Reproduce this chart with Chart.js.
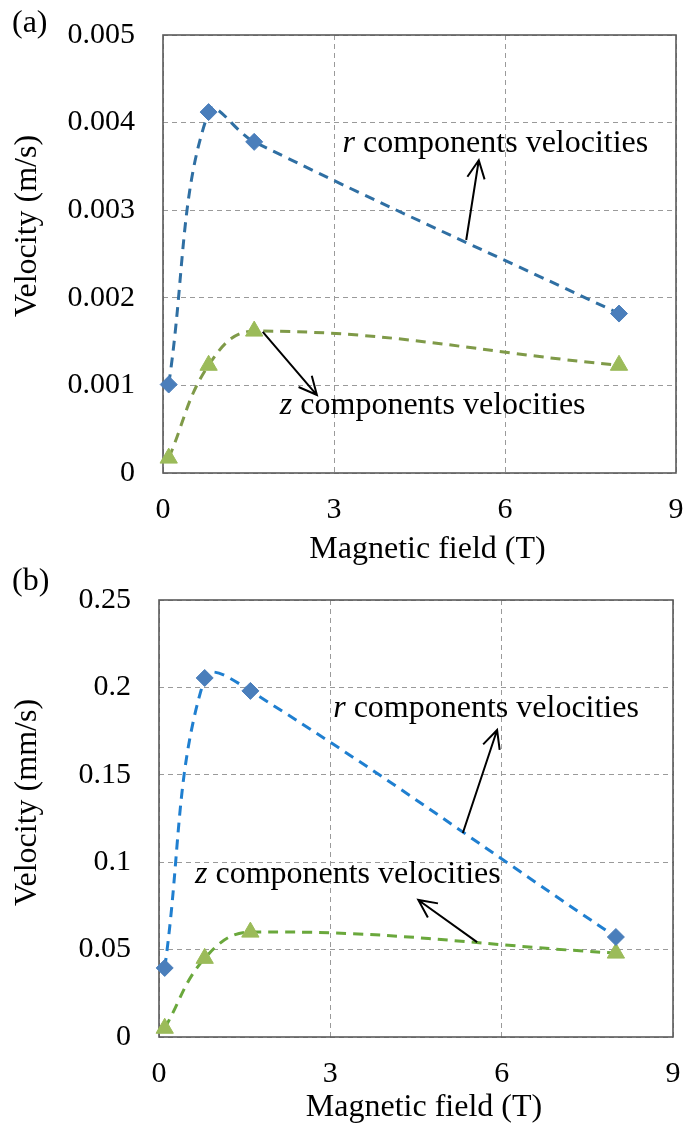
<!DOCTYPE html>
<html>
<head>
<meta charset="utf-8">
<script src="https://cdn.jsdelivr.net/npm/chart.js@4.4.1/dist/chart.umd.min.js"></script>
<style>
    body { margin: 0; background: #fff; }
    .wrap { position: relative; width: 687px; height: 1133px; }
    canvas { position: absolute; left: 0; }
</style>
</head>
<body>
<div class="wrap">
    <canvas id="chart-a" width="687" height="575" style="top:0"></canvas>
    <canvas id="chart-b" width="687" height="588" style="top:545px"></canvas>
</div>
<script>
// 数据
const fieldT = [0.1, 0.8, 1.6, 8];
const rVelA = [0.00101, 0.00412, 0.00378, 0.00182];
const zVelA = [0.00017, 0.00123, 0.00162, 0.00123];
const rVelB = [0.0395, 0.2054, 0.198, 0.0572];
const zVelB = [0.005, 0.045, 0.060, 0.048];
const xTicks = [0, 3, 6, 9];
const yTicksA = [0, 0.001, 0.002, 0.003, 0.004, 0.005];
const yTicksB = [0, 0.05, 0.1, 0.15, 0.2, 0.25];

const serif = "'Liberation Serif', 'Times New Roman', serif";
Chart.defaults.font.family = serif;
Chart.defaults.color = '#000';

const toPoints = ys => fieldT.map((x, i) => ({ x: x, y: ys[i] }));

// frame + labels + arrows
const decorPlugin = {
    id: 'decor',
    beforeDatasetsDraw(chart, args, opts) {
        const a = chart.chartArea;
        const ctx = chart.ctx;
        ctx.save();
        ctx.setLineDash([]);
        ctx.strokeStyle = '#5a5a5a';
        ctx.lineWidth = 1.6;
        ctx.strokeRect(a.left, a.top, a.right - a.left, a.bottom - a.top);
        ctx.restore();
    },
    afterDatasetsDraw(chart, args, opts) {
        const ctx = chart.ctx;
        const xs = chart.scales.x, ys = chart.scales.y;
        ctx.save();
        ctx.fillStyle = '#000';
        ctx.textBaseline = 'alphabetic';
        ctx.font = '32px ' + serif;
        ctx.fillText(opts.panel, 12, opts.panelY);

        opts.notes.forEach(n => {
            const px = xs.getPixelForValue(n.x);
            const py = ys.getPixelForValue(n.y);
            ctx.font = 'italic 32px ' + serif;
            ctx.fillText(n.sym, px, py);
            const w = ctx.measureText(n.sym).width;
            ctx.font = '32px ' + serif;
            ctx.fillText(' components velocities', px + w, py);
        });

        ctx.strokeStyle = '#000';
        ctx.lineWidth = 2;
        ctx.setLineDash([]);
        opts.arrows.forEach(ar => {
            const x1 = xs.getPixelForValue(ar[0]), y1 = ys.getPixelForValue(ar[1]);
            const x2 = xs.getPixelForValue(ar[2]), y2 = ys.getPixelForValue(ar[3]);
            const ang = Math.atan2(y2 - y1, x2 - x1);
            const len = 20, spread = 0.45;
            ctx.beginPath();
            ctx.moveTo(x1, y1);
            ctx.lineTo(x2, y2);
            ctx.moveTo(x2 - len * Math.cos(ang - spread), y2 - len * Math.sin(ang - spread));
            ctx.lineTo(x2, y2);
            ctx.lineTo(x2 - len * Math.cos(ang + spread), y2 - len * Math.sin(ang + spread));
            ctx.stroke();
        });
        ctx.restore();
    }
};

function makeChart(id, cfg) {
    const ctx = document.getElementById(id).getContext('2d');
    return new Chart(ctx, {
        type: 'scatter',
        data: {
            datasets: [{
                label: 'r',
                data: toPoints(cfg.r),
                showLine: true,
                tension: 0.4,
                borderColor: cfg.rLine,
                borderWidth: 3,
                borderDash: [10, 7],
                pointStyle: 'rectRot',
                pointRadius: 8.5,
                pointBackgroundColor: '#4a7ebb',
                pointBorderColor: '#4a7ebb',
                pointBorderWidth: 1,
                clip: false
            }, {
                label: 'z',
                data: toPoints(cfg.z),
                showLine: true,
                tension: 0.4,
                borderColor: cfg.zLine,
                borderWidth: 3,
                borderDash: [10, 7],
                pointStyle: 'triangle',
                pointRadius: 10,
                pointBackgroundColor: '#9bbb59',
                pointBorderColor: '#9bbb59',
                pointBorderWidth: 1,
                clip: false
            }]
        },
        options: {
            responsive: false,
            animation: false,
            events: [],
            layout: { padding: { top: cfg.padTop, right: cfg.padRight, left: 0, bottom: 0 } },
            plugins: {
                legend: { display: false },
                tooltip: { enabled: false },
                decor: cfg.decor
            },
            scales: {
                x: {
                    type: 'linear',
                    min: 0,
                    max: 9,
                    afterBuildTicks: axis => { axis.ticks = xTicks.map(v => ({ value: v })); },
                    afterFit: scale => {
                        scale.height = cfg.xHeight;
                        scale.paddingLeft = 0;
                        scale.paddingRight = 0;
                    },
                    grid: { color: '#9a9a9a', lineWidth: 1, drawTicks: false },
                    border: { display: false, dash: [5, 4] },
                    ticks: { padding: 19, font: { size: 30 }, color: '#000' },
                    title: {
                        display: true,
                        // leading spaces nudge the centred title right, as in the figure
                        text: '  Magnetic field (T)',
                        font: { size: 32, lineHeight: 1 },
                        padding: { top: 0, bottom: 9 },
                        color: '#000'
                    }
                },
                y: {
                    type: 'linear',
                    min: 0,
                    max: cfg.yTicks[cfg.yTicks.length - 1],
                    afterBuildTicks: axis => { axis.ticks = cfg.yTicks.map(v => ({ value: v })); },
                    afterFit: scale => {
                        scale.width = cfg.yWidth;
                        scale.paddingTop = 0;
                        scale.paddingBottom = 0;
                    },
                    grid: { color: '#9a9a9a', lineWidth: 1, drawTicks: false },
                    border: { display: false, dash: [5, 4] },
                    ticks: {
                        padding: 28,
                        font: { size: 30 },
                        color: '#000',
                        callback: v => String(+v.toFixed(4))
                    },
                    title: {
                        display: true,
                        text: cfg.yTitle,
                        font: { size: 32, lineHeight: 1 },
                        padding: { top: 12, bottom: 0 },
                        color: '#000'
                    }
                }
            }
        },
        plugins: [decorPlugin]
    });
}

makeChart('chart-a', {
    r: rVelA, z: zVelA,
    rLine: '#2f6fa3', zLine: '#7f9a48',
    yTicks: yTicksA, yTitle: '       Velocity (m/s)',
    padTop: 35, padRight: 10, xHeight: 102, yWidth: 163,
    decor: {
        panel: '(a)', panelY: 32,
        notes: [
            { sym: 'r', x: 3.15, y: 0.003664 },
            { sym: 'z', x: 2.05, y: 0.000674 }
        ],
        arrows: [
            [5.32, 0.00266, 5.54, 0.00357],
            [1.75, 0.00161, 2.70, 0.00089]
        ]
    }
});

makeChart('chart-b', {
    r: rVelB, z: zVelB,
    rLine: '#1f7fd0', zLine: '#6aa83c',
    yTicks: yTicksB, yTitle: '    Velocity (mm/s)',
    padTop: 55, padRight: 14, xHeight: 96, yWidth: 159,
    decor: {
        panel: '(b)', panelY: 45,
        notes: [
            { sym: 'r', x: 3.05, y: 0.183 },
            { sym: 'z', x: 0.63, y: 0.0881 }
        ],
        arrows: [
            [5.32, 0.1167, 5.92, 0.1756],
            [5.57, 0.0543, 4.54, 0.0784]
        ]
    }
});
</script>
</body>
</html>
